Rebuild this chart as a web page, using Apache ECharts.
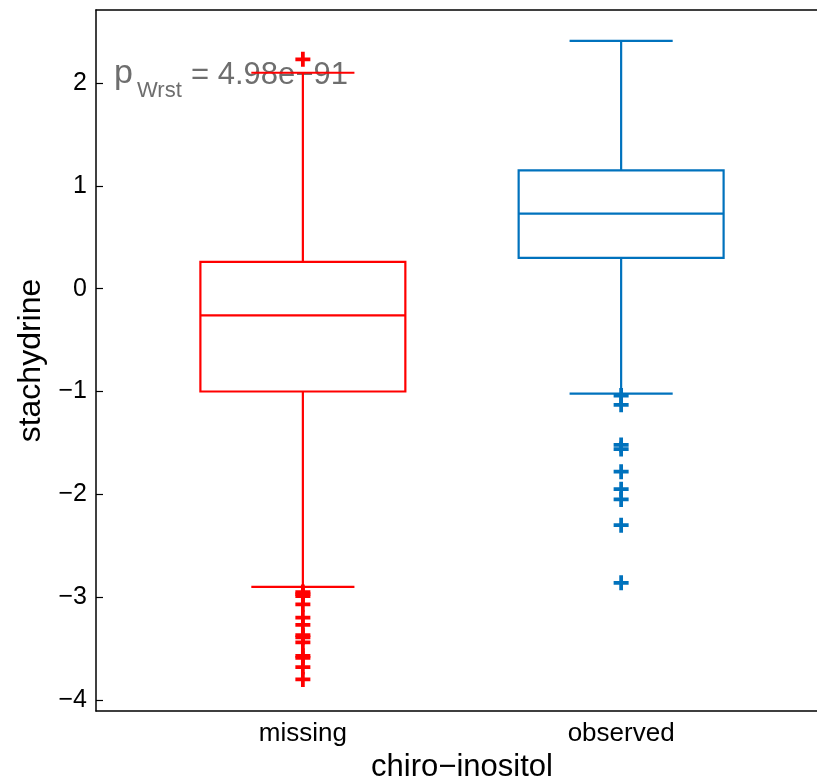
<!DOCTYPE html>
<html>
<head>
<meta charset="utf-8">
<script src="https://cdn.jsdelivr.net/npm/echarts@6/dist/echarts.min.js"></script>
<style>
html,body{margin:0;padding:0;background:#fff;overflow:hidden;width:817px;height:780px;}
#chart{width:840px;height:780px;}
</style>
</head>
<body>
<div id="chart"></div>
<script>
const categories = ['missing', 'observed'];
const lowerWhisker = [-2.90, -1.02];
const q1 = [-1.00, 0.30];
const median = [-0.26, 0.73];
const q3 = [0.26, 1.15];
const upperWhisker = [2.10, 2.41];
const outliersMissing = [2.23, -2.95, -2.97, -2.99, -3.07, -3.20, -3.27, -3.37, -3.39, -3.44, -3.57, -3.59, -3.68, -3.80];
const outliersObserved = [-1.04, -1.13, -1.52, -1.56, -1.78, -1.95, -2.05, -2.30, -2.86];
const yTicks = [-4, -3, -2, -1, 0, 1, 2];
const colors = ['#ff0000', '#0072bd'];
const pLabelMain = 'p';
const pLabelSub = 'Wrst';
const pLabelValue = '= 4.98e\u221291';

const FONT = '"Liberation Sans", Arial, Helvetica, sans-serif';
const boxHalf = 0.322, capHalf = 0.162;

const boxData = categories.map((c, i) => [i + 1, lowerWhisker[i], q1[i], median[i], q3[i], upperWhisker[i]]);
const plusPath = 'path://M3,0H5V3H8V5H5V8H3V5H0V3H3Z';

const chart = echarts.init(document.getElementById('chart'), null, {renderer: 'canvas'});
const minus = v => String(v).replace('-', '\u2212');
const axisLineStyle = {show: true, onZero: false, lineStyle: {color: '#000', width: 1.5}};

chart.setOption({
  backgroundColor: '#fff',
  animation: false,
  grid: {left: 96, top: 10, right: 12, bottom: 69, outerBoundsMode: 'none', containLabel: false, show: false},
  xAxis: [{
    type: 'value', min: 0.35, max: 2.65, position: 'bottom',
    axisLine: axisLineStyle, axisTick: {show: false}, splitLine: {show: false},
    axisLabel: {customValues: [1, 2], formatter: v => categories[Math.round(v) - 1], fontSize: 26, color: '#000', fontFamily: FONT, margin: 10},
    name: 'chiro\u2212inositol', nameLocation: 'middle', nameGap: 38,
    nameTextStyle: {fontSize: 31, color: '#000', fontFamily: FONT}
  }, {
    type: 'value', min: 0.35, max: 2.65, position: 'top',
    axisLine: axisLineStyle, axisTick: {show: false}, axisLabel: {show: false}, splitLine: {show: false}
  }],
  yAxis: {
    type: 'value', min: -4.107, max: 2.71,
    axisLine: axisLineStyle, splitLine: {show: false},
    axisTick: {show: true, inside: true, length: 7, customValues: yTicks, lineStyle: {color: '#000', width: 1.2}},
    axisLabel: {customValues: yTicks, formatter: minus, fontSize: 25, color: '#000', fontFamily: FONT, margin: 9},
    name: 'stachydrine', nameLocation: 'middle', nameGap: 45,
    nameTextStyle: {fontSize: 32, color: '#000', fontFamily: FONT}
  },
  graphic: [
    {type: 'text', z: 0, style: {x: 114, y: 74, text: pLabelMain, fontSize: 34, fontFamily: FONT, fill: '#6e6e6e', textVerticalAlign: 'middle'}},
    {type: 'text', z: 0, style: {x: 137, y: 91, text: pLabelSub, fontSize: 22, fontFamily: FONT, fill: '#6e6e6e', textVerticalAlign: 'middle'}},
    {type: 'text', z: 0, style: {x: 191, y: 75, text: pLabelValue, fontSize: 31, fontFamily: FONT, fill: '#6e6e6e', textVerticalAlign: 'middle'}}
  ],
  series: [
    {
      type: 'custom', z: 5,
      data: boxData,
      renderItem: function (params, api) {
        const x = api.value(0), lw = api.value(1), lq = api.value(2), md = api.value(3), uq = api.value(4), uw = api.value(5);
        const col = colors[params.dataIndex];
        const p = (a, b) => api.coord([a, b]);
        const st = {stroke: col, lineWidth: 2.2, fill: null};
        const line = (a, b) => ({type: 'line', shape: {x1: a[0], y1: a[1], x2: b[0], y2: b[1]}, style: st});
        const tl = p(x - boxHalf, uq), br = p(x + boxHalf, lq);
        return {type: 'group', children: [
          {type: 'rect', shape: {x: tl[0], y: tl[1], width: br[0] - tl[0], height: br[1] - tl[1]}, style: st},
          line(p(x - boxHalf, md), p(x + boxHalf, md)),
          line(p(x, uq), p(x, uw)),
          line(p(x, lq), p(x, lw)),
          line(p(x - capHalf, uw), p(x + capHalf, uw)),
          line(p(x - capHalf, lw), p(x + capHalf, lw))
        ]};
      }
    },
    {type: 'scatter', z: 6, symbol: plusPath, symbolSize: 15, itemStyle: {color: colors[0], opacity: 1}, data: outliersMissing.map(v => [1, v])},
    {type: 'scatter', z: 6, symbol: plusPath, symbolSize: 15, itemStyle: {color: colors[1], opacity: 1}, data: outliersObserved.map(v => [2, v])}
  ]
});
</script>
</body>
</html>
